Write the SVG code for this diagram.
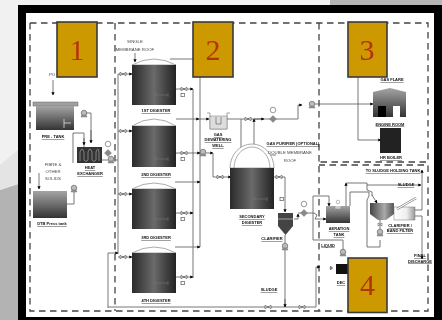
<svg xmlns="http://www.w3.org/2000/svg" width="442" height="320" viewBox="0 0 442 320">
<defs>
<linearGradient id="tank" x1="0" x2="1" y1="0" y2="0"><stop offset="0" stop-color="#2a2a2a"/><stop offset=".5" stop-color="#6a6a6a"/><stop offset="1" stop-color="#222"/></linearGradient>
<linearGradient id="vt" x1="0" x2="0" y1="0" y2="1"><stop offset="0" stop-color="#a5a5a5"/><stop offset="1" stop-color="#333"/></linearGradient>
<linearGradient id="hz" x1="0" x2="1" y1="0" y2="0"><stop offset="0" stop-color="#444"/><stop offset=".6" stop-color="#aaa"/><stop offset="1" stop-color="#555"/></linearGradient>
<linearGradient id="fl" x1="0" x2="1" y1="0" y2="0"><stop offset="0" stop-color="#fff"/><stop offset=".6" stop-color="#eee"/><stop offset="1" stop-color="#999"/></linearGradient>
<marker id="a" markerWidth="4" markerHeight="4" refX="3.4" refY="2" orient="auto"><path d="M0 0L4 2L0 4z" fill="#000"/></marker>
<g id="valve"><path d="M-3 -1.6L3 1.6V-1.6L-3 1.6z" fill="#fff" stroke="#333" stroke-width=".6"/></g>
<g id="pump"><circle cx="0" cy="-1" r="2.8" fill="#bbb" stroke="#555" stroke-width=".6"/><path d="M-3 3H3L2 1H-2z" fill="#999" stroke="#555" stroke-width=".4"/></g>
<g id="gauge"><circle r="2.8" fill="#fff" stroke="#555" stroke-width=".6"/></g>
<g id="dia"><path d="M0 -3.5L3.5 0L0 3.500L-3.5 0z" fill="#888" stroke="#777" stroke-width=".4"/></g>
<g id="heater"><path d="M0 0H13M0 -2V2M13 -2V2" stroke="#777" stroke-width=".6" fill="none"/><rect x="26" y="-1.7" width="3.4" height="3.4" fill="#fff" stroke="#444" stroke-width=".6"/></g>
</defs>
<style>
.lbl{font-family:"Liberation Sans",Arial,sans-serif;font-size:4px;fill:#111;text-anchor:middle}
.b{font-weight:bold;text-decoration:underline}
.t{font-size:4.3px;fill:#444}
.num{font-family:"Liberation Serif","Times New Roman",serif;font-size:30px;fill:#b5330a;text-anchor:middle}
.box{fill:#cc9900;stroke:#3a3a3a;stroke-width:1.6}
.dash{fill:none;stroke:#444;stroke-width:1.3;stroke-dasharray:6.5 4.5}
.pipe{fill:none;stroke:#777;stroke-width:1}
.pa{fill:none;stroke:#555;stroke-width:.8;marker-end:url(#a)}
.dome{fill:#fff;stroke:#888;stroke-width:.7}
</style>
<rect width="442" height="320" fill="#f1f1f1"/>
<path d="M0 190L18 184V320H0z" fill="#b3b3b3"/>
<path d="M0 190L18 184V150L0 165z" fill="#e4e4e4"/>
<path d="M330 0H442V5H330z" fill="#b5b5b5"/>
<rect x="18" y="5" width="424" height="315" fill="#000"/>
<rect x="26" y="13" width="408" height="304" fill="#fff"/>
<g id="diagram" style="filter:blur(.2px)">
<g id="regions">
<path class="dash" d="M30 23H428V162H319"/>
<path class="dash" d="M30 23V311H428V165H319"/>
<path class="dash" d="M115 23V311"/>
<path class="dash" d="M319 23V311"/>
</g>
<g id="connectors">
<path class="pa" d="M53 80V95"/>
<path class="pipe" d="M86 113H91V142"/>
<path class="pa" d="M91 130V143"/>
<path class="pipe" d="M84 147V133H73V163"/>
<path class="pa" d="M84 138V145"/>
<path class="pipe" d="M74 192V204H67"/>
<path class="pa" d="M39 173V189"/>
<path class="pipe" d="M102 160H108M114 160H118"/>
<path class="pipe" d="M118 74V254"/>
<path class="pa" d="M118 74H132"/>
<path class="pa" d="M118 131H132"/>
<path class="pa" d="M118 194H132"/>
<path class="pa" d="M118 257H132"/>
<path class="pa" d="M108 308V253H118"/>
<path class="pipe" d="M108 307H316V267"/>
<path class="pa" d="M316 267H320"/>
<path class="pipe" d="M170 59H193M200 77V247"/>
<path class="pa" d="M176 119H199"/>
<path class="pa" d="M199 119H209"/>
<path class="pa" d="M175 182H200"/>
<path class="pa" d="M175 247H200"/>
<path class="pipe" d="M193 89V278"/>
<path class="pa" d="M176 89H193"/>
<path class="pa" d="M176 153H200"/>
<path class="pa" d="M176 213H193"/>
<path class="pa" d="M176 277H193"/>
<path class="pa" d="M206 153H213"/>
<path class="pipe" d="M213 153V177"/>
<path class="pa" d="M213 177H231"/>
<path class="pipe" d="M227 119H298V105"/>
<path class="pipe" d="M241 119V151"/>
<path class="pa" d="M254 119H264"/>
<path class="pa" d="M254 155V119"/>
<path class="pa" d="M298 105H302"/>
<path class="pa" d="M315 104H373"/>
<path class="pa" d="M358 77V140H381"/>
<path class="pa" d="M276 155H258"/>
<path class="pa" d="M274 177H285V212"/>
<path class="pipe" d="M285 235V243M285 250V307"/>
<path class="pa" d="M285 299V307"/>
<path class="pa" d="M294 219H298V214"/>
<path class="pipe" d="M298 213H314L317 215L315 219"/>
<path class="pa" d="M315 219H326"/>
<path class="pipe" d="M343 250V240H313V196H329"/>
<path class="pa" d="M329 196V206"/>
<path class="pipe" d="M346 183H367V190L372 192V196"/>
<path class="pa" d="M346 206V183"/>
<path class="pipe" d="M350 206V192H369L369 196L367 200V247H380V240"/>
<path class="pa" d="M372 195L377 203"/>
<path class="pa" d="M367 185H421"/>
<path class="pipe" d="M415 210H422"/>
<path class="pa" d="M422 210V170"/>
<path class="pa" d="M415 216H422V259"/>
<path class="pipe" d="M380 220V229"/>
</g>
<g id="pre-tank"><rect x="33" y="102" width="45" height="4" fill="#a0a0a0" stroke="#666" stroke-width=".5"/><rect x="36" y="106" width="38" height="24" fill="url(#vt)"/><path d="M64 119V128M64 123H71" stroke="#ddd" stroke-width=".8" fill="none"/><use href="#pump" x="84" y="114"/><text class="lbl b" x="53" y="138">PRE - TANK</text><text class="lbl t" x="52" y="76">PO</text></g>
<g id="heat-exchanger"><rect x="77" y="147" width="25" height="16" fill="#333"/><path d="M80 161V152q2-6 4 0V160q2 3 4 0V152q2-6 4 0V160q2 3 4 0V152q2-6 3 0V161" fill="none" stroke="#bbb" stroke-width=".6"/><text class="lbl b" x="90" y="169">HEAT</text><text class="lbl b" x="90" y="175">EXCHANGER</text><use href="#gauge" x="108" y="144"/><use href="#dia" x="108" y="153"/><use href="#pump" x="111" y="160"/></g>
<g id="dtb-press-tank"><rect x="33" y="191" width="34" height="27" fill="url(#vt)"/><use href="#pump" x="74" y="189"/><text class="lbl t" x="53" y="166">FIBRE &amp;</text><text class="lbl t" x="53" y="173">OTHER</text><text class="lbl t" x="53" y="180">SOLIDS</text><text class="lbl b" x="52" y="225">DTB Press tank</text></g>
<g id="digester-1"><path class="dome" d="M132 65Q154 53 176 65z"/><rect x="132" y="65" width="44" height="40" fill="url(#tank)"/><use href="#heater" x="155" y="95"/><use href="#valve" x="184" y="89"/><text class="lbl b" x="156" y="112">1ST DIGESTER</text><text class="lbl t" x="135" y="43">SINGLE</text><text class="lbl t" x="135" y="51">MEMBRANE ROOF</text><path class="pa" d="M135 53V62"/><use href="#valve" x="123" y="74"/></g>
<g id="digester-2"><path class="dome" d="M132 126Q154 112 176 126z"/><rect x="132" y="126" width="44" height="41" fill="url(#tank)"/><use href="#heater" x="155" y="159"/><use href="#valve" x="184" y="153"/><use href="#pump" x="203" y="153"/><use href="#valve" x="123" y="131"/><text class="lbl b" x="156" y="176">2ND DIGESTER</text></g>
<g id="digester-3"><path class="dome" d="M132 189Q154 177 176 189z"/><rect x="132" y="189" width="44" height="40" fill="url(#tank)"/><use href="#heater" x="155" y="219"/><use href="#valve" x="184" y="213"/><use href="#valve" x="123" y="194"/><text class="lbl b" x="156" y="239">3RD DIGESTER</text></g>
<g id="digester-4"><path class="dome" d="M132 253Q154 241 176 253z"/><rect x="132" y="253" width="44" height="40" fill="url(#tank)"/><use href="#heater" x="155" y="283"/><use href="#valve" x="184" y="277"/><use href="#valve" x="123" y="257"/><text class="lbl b" x="156" y="302">4TH DIGESTER</text></g>
<g id="gas-dewatering"><path d="M207 113H210V129H227V113H230" fill="none" stroke="#666" stroke-width=".6"/><rect x="210" y="116" width="17" height="13" fill="#ddd" stroke="#777" stroke-width=".5"/><path d="M216 117V124H221V117" fill="none" stroke="#555" stroke-width=".6"/><text class="lbl b" x="218" y="136">GAS</text><text class="lbl b" x="218" y="141">DEWATERING</text><text class="lbl b" x="218" y="147">WELL</text><use href="#valve" x="248" y="119"/><use href="#gauge" x="273" y="110"/><use href="#dia" x="273" y="119"/></g>
<g id="secondary-digester"><path class="dome" d="M230 168A22 24 0 0 1 274 168z"/><path class="dome" d="M234 168A18 21 0 0 1 270 168z"/><rect x="230" y="168" width="44" height="41" fill="url(#tank)"/><use href="#heater" x="254" y="199"/><use href="#valve" x="220" y="177"/><use href="#valve" x="279" y="177"/><text class="lbl b" x="252" y="218">SECONDARY</text><text class="lbl b" x="252" y="224">DIGESTER</text><text class="lbl t" x="290" y="154">DOUBLE MEMBRANE</text><text class="lbl t" x="290" y="162">ROOF</text><text class="lbl b" x="293" y="145">GAS PURIFIER (OPTIONAL)</text></g>
<g id="clarifier"><path d="M278 213H293V226L285.500 235L278 226z" fill="#444"/><path d="M278 219H293" stroke="#bbb" stroke-width=".8"/><text class="lbl b" x="272" y="240">CLARIFIER</text><use href="#pump" x="285" y="247"/><text class="lbl b" x="269" y="291">SLUDGE</text><use href="#valve" x="268" y="307"/><use href="#valve" x="302" y="307"/></g>
<g id="engine-room"><use href="#pump" x="312" y="105"/><path d="M373 92L390 88L406 92V117H373z" fill="url(#vt)"/><rect x="378" y="106" width="8" height="11" fill="#000"/><rect x="393" y="106" width="7" height="11" fill="#fff"/><text class="lbl b" x="392" y="81">GAS FLARE</text><text class="lbl b" x="390" y="125.500">ENGINE ROOM</text></g>
<g id="hr-boiler"><rect x="380" y="128" width="21" height="25" fill="#222"/><text class="lbl b" x="391" y="159">HR BOILER</text></g>
<g id="aeration-tank"><rect x="326" y="206" width="24" height="17" fill="url(#vt)"/><path d="M335 206V209H341V206" fill="#ccc" stroke="#888" stroke-width=".5"/><circle cx="338" cy="202" r="1.800" fill="#fff" stroke="#777" stroke-width=".5"/><use href="#gauge" x="304" y="204"/><use href="#dia" x="304" y="213"/><text class="lbl b" x="339" y="230">AERATION</text><text class="lbl b" x="339" y="236">TANK</text></g>
<g id="clarifier-filter"><path d="M370 203H394V214L386 220H378L370 214z" fill="url(#hz)"/><rect x="394" y="207" width="21" height="13" fill="url(#fl)" stroke="#777" stroke-width=".5"/><path d="M397 209L416 198" stroke="#777" stroke-width="2.400"/><path d="M397 209L416 198" stroke="#fff" stroke-width="1.200"/><use href="#pump" x="380" y="233"/><path d="M378 223L382 226V223L378 226z" fill="#fff" stroke="#444" stroke-width=".5"/><text class="lbl b" x="400" y="227">CLARIFIER /</text><text class="lbl b" x="400" y="232">BAND FILTER</text><text class="lbl b" x="393" y="172">TO SLUDGE HOLDING TANK</text><text class="lbl b" x="406" y="186">SLUDGE</text><text class="lbl b" x="420" y="257">FINAL</text><text class="lbl b" x="420" y="262.500">DISCHARGE</text></g>
<g id="decanter"><use href="#pump" x="343" y="253"/><rect x="336" y="264" width="13" height="10" fill="#111"/><path d="M330 266l3 2-3 2z" fill="#333"/><circle cx="331" cy="268" r="1.500" fill="#888"/><text class="lbl b" x="341" y="284">DEC</text><text class="lbl b" x="328" y="246.500">LIQUID</text></g>
<g id="box-1"><rect class="box" x="57" y="22" width="40" height="55"/><text class="num" x="77" y="60">1</text></g>
<g id="box-2"><rect class="box" x="193" y="22" width="40" height="55"/><text class="num" x="213" y="60">2</text></g>
<g id="box-3"><rect class="box" x="348" y="22" width="39" height="55"/><text class="num" x="367" y="60">3</text></g>
<g id="box-4"><rect class="box" x="348" y="258" width="39" height="54.500"/><text class="num" x="367.500" y="295">4</text></g>
</g>
</svg>
